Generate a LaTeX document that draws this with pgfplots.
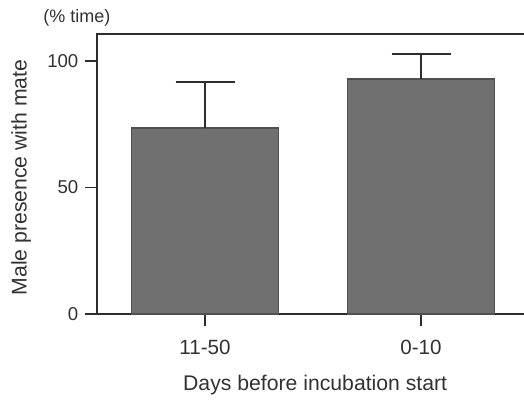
\documentclass[border=0pt]{standalone}
\usepackage{pgfplots}
\pgfplotsset{compat=1.18}
\usepackage{fontspec}
\setmainfont{Liberation Sans}
\definecolor{barfill}{RGB}{112,112,112}
\definecolor{baredge}{RGB}{80,80,80}
\definecolor{linec}{RGB}{45,45,45}
\definecolor{txt}{RGB}{50,50,50}
\begin{document}
\begin{tikzpicture}
\begin{axis}[
  scale only axis,
  width=218.16pt, height=140pt,
  xmin=-0.5, xmax=1.52,
  ymin=0, ymax=110.7,
  axis line style={linec, line width=0.9pt},
  xtick={0,1}, xticklabels={11-50,0-10},
  ytick={0,50,100},
  tick align=outside,
  tick pos=left,
  major tick length=5.8pt,
  tick style={linec, line width=0.8pt},
  /pgf/number format/assume math mode=true,
  yticklabel style={font=\fontsize{9.3}{11}\selectfont, text=txt},
  xticklabel style={font=\fontsize{10.3}{12}\selectfont, text=txt, yshift=-3.5pt},
  xlabel={Days before incubation start},
  ylabel={Male presence with mate},
  label style={font=\fontsize{10.6}{12.5}\selectfont, text=txt},
  xlabel style={yshift=-3.5pt},
  ylabel style={at={(axis description cs:-0.135,0.4875)}},
  clip=false,
]
\addplot[ybar, bar width=73.5pt, fill=barfill, draw=baredge, line width=0.6pt,
  error bars/.cd, y dir=plus, y explicit,
  error bar style={linec, line width=0.8pt},
  error mark=|,
  error mark options={linec, line width=0.8pt, mark size=14.75pt}]
  coordinates {(0,73.5) +- (0,18.2) (1,92.9) +- (0,9.9)};
\node[anchor=south west, font=\fontsize{9}{11}\selectfont, text=txt, inner sep=0pt]
  at (axis description cs:-0.124,1.025) {(\% time)};
\end{axis}
\pgfresetboundingbox
\useasboundingbox (-48.5pt,-43.5pt) rectangle (213.5pt,157pt);
\end{tikzpicture}
\end{document}
